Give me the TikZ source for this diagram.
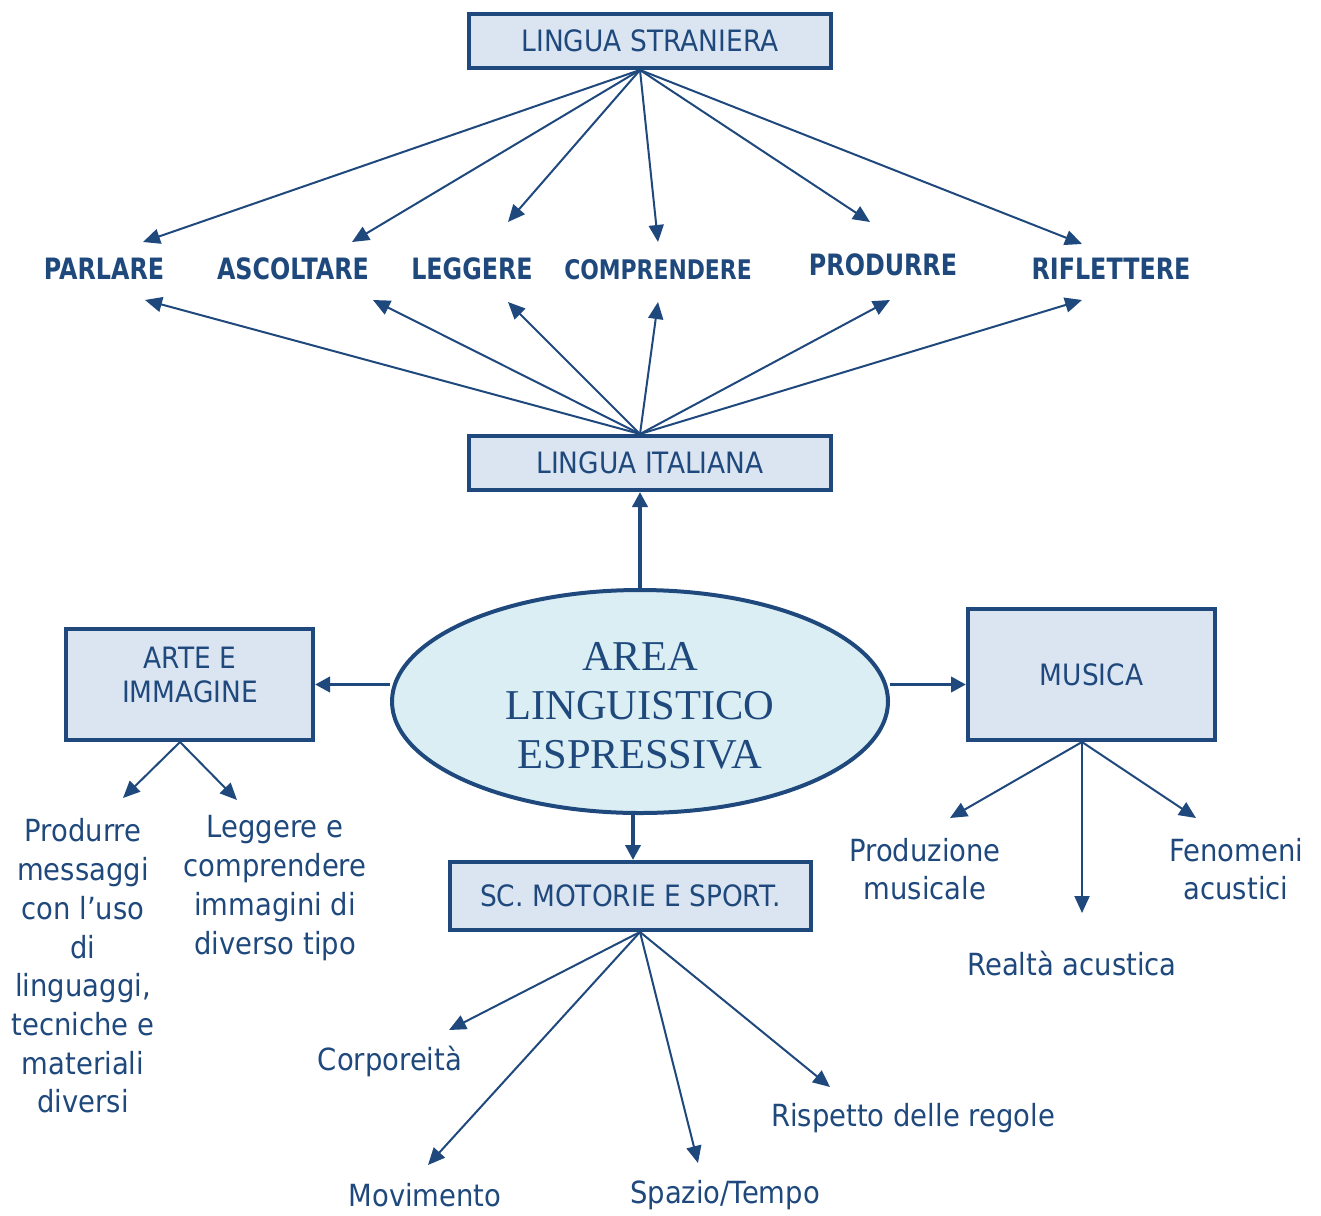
\documentclass[tikz,border=0pt]{standalone}
\usepackage{fontspec}
\setmainfont{DejaVu Sans}
\newfontfamily\headfont[FakeStretch=0.81]{DejaVu Sans}
\newfontfamily\labelfont[FakeStretch=0.9]{DejaVu Sans}
\newfontfamily\ellfont{Liberation Serif}
\usetikzlibrary{arrows.meta,shapes.geometric,calc}
\definecolor{navy}{HTML}{1F497D}
\definecolor{boxfill}{HTML}{DBE5F1}
\definecolor{ellfill}{HTML}{DAEEF3}
\begin{document}
\begin{tikzpicture}[x=1pt,y=-1pt,
  boxtext/.style={text=navy, font=\labelfont\fontsize{29.4}{34}\selectfont, align=center},
  subject/.style={boxtext, draw=navy, line width=4pt, fill=boxfill, inner sep=0pt},
  skill/.style={text=navy, font=\headfont\bfseries\fontsize{29.4}{34}\selectfont, inner sep=0pt},
  topic/.style={text=navy, font=\labelfont\fontsize{30.5}{38.7}\selectfont, align=center, inner sep=0pt},
  link/.style={draw=navy, line width=2pt, -{Triangle[length=17pt,width=15pt]}},
  mainlink/.style={draw=navy, line width=3.8pt, -{Triangle[length=15pt,width=15pt]}}]
\useasboundingbox[fill=white] (0,0) rectangle (1321,1215);

% central ellipse
\node[ellipse, draw=navy, line width=4pt, fill=ellfill, inner sep=0pt,
  minimum width=496pt, minimum height=223pt, text=navy] (ell) at (640,701.5) {};
\node[text=navy, align=center, inner sep=0pt,
  font=\ellfont\fontsize{42.5}{49}\selectfont] (elltxt) at (640,706)
  {AREA\\LINGUISTICO\\ESPRESSIVA};

% subject boxes
\node[subject, minimum width=362pt, minimum height=54pt] (ls) at (650,41) {LINGUA STRANIERA};
\node[subject, minimum width=362pt, minimum height=54pt] (li) at (650,463) {LINGUA ITALIANA};
\node[subject, minimum width=247pt, minimum height=111pt] (arte) at (189.5,684.5) {};
\node[boxtext, inner sep=0pt] (artetxt) at (190,675) {ARTE E\\IMMAGINE};
\node[subject, minimum width=247pt, minimum height=131pt] (mus) at (1091.5,674.5) {MUSICA};
\node[subject, minimum width=361pt, minimum height=68pt] (sc) at (630.5,896) {SC. MOTORIE E SPORT.};

% language skills
\node[skill] (parl) at (104,269) {PARLARE};
\node[skill] (asc) at (293,269) {ASCOLTARE};
\node[skill] (legg) at (472,269) {LEGGERE};
\node[skill, font=\headfont\bfseries\fontsize{27}{32}\selectfont] (comp) at (658,270) {COMPRENDERE};
\node[skill] (prod) at (883,265) {PRODURRE};
\node[skill] (rifl) at (1111,269) {RIFLETTERE};

% topics
\node[topic] (artea) at (83,966) {Produrre\\messaggi\\con l’uso\\di\\linguaggi,\\tecniche e\\materiali\\diversi};
\node[topic] (arteb) at (275,888) {Leggere e\\comprendere\\immagini di\\diverso tipo};
\node[topic] (musa) at (925,869) {Produzione\\musicale};
\node[topic] (musb) at (1072,964) {Realtà acustica};
\node[topic] (musc) at (1236,869) {Fenomeni\\acustici};
\node[topic] (sca) at (390,1061) {Corporeità};
\node[topic] (scb) at (425,1195) {Movimento};
\node[topic] (scc) at (725,1195) {Spazio/Tempo};
\node[topic] (scd) at (913,1118) {Rispetto delle regole};

% connector ends
\coordinate (lsfoot) at ($(ls.south)+(-10,0)$);
\coordinate (lihead) at ($(li.north)+(-10,0)$);
\coordinate (artefoot) at ($(arte.south)+(-9.5,0)$);
\coordinate (musfoot) at ($(mus.south)+(-9.5,0)$);
\coordinate (scfoot) at ($(sc.south)+(9.5,0)$);

\coordinate (parlU) at (143,242);
\coordinate (ascU) at (352,242);
\coordinate (leggU) at (508,222);
\coordinate (compU) at (658,242);
\coordinate (prodU) at (870,222);
\coordinate (riflU) at (1082,244);

\coordinate (parlD) at (145,300);
\coordinate (ascD) at (373,300);
\coordinate (leggD) at (508,302);
\coordinate (compD) at (658,302);
\coordinate (prodD) at (890,300);
\coordinate (riflD) at (1082,300);

\coordinate (arteaT) at (123,798);
\coordinate (artebT) at (237,800);
\coordinate (musaT) at (950,818);
\coordinate (musbT) at (1082,913);
\coordinate (muscT) at (1196,818);
\coordinate (scaT) at (449,1030);
\coordinate (scbT) at (428,1165);
\coordinate (sccT) at (698,1163);
\coordinate (scdT) at (830,1087);

% ellipse to subjects
\draw[mainlink] (ell.north) -- (ell.north |- li.south);
\draw[mainlink] (ell.west |- arte.east) -- (arte.east);
\draw[mainlink] (ell.east |- arte.east) -- (mus.west |- arte.east);
\draw[mainlink] ($(ell.south)+(-7,0)$) -- ($(ell.south |- sc.north)+(-7,0)$);

% foreign language skills
\foreach \t in {parlU,ascU,leggU,compU,prodU,riflU}
  \draw[link] (lsfoot) -- (\t);
% italian language skills
\foreach \t in {parlD,ascD,leggD,compD,prodD,riflD}
  \draw[link] (lihead) -- (\t);
% art
\foreach \t in {arteaT,artebT}
  \draw[link] (artefoot) -- (\t);
% music
\foreach \t in {musaT,musbT,muscT}
  \draw[link] (musfoot) -- (\t);
% sport
\foreach \t in {scaT,scbT,sccT,scdT}
  \draw[link] (scfoot) -- (\t);
\end{tikzpicture}
\end{document}
